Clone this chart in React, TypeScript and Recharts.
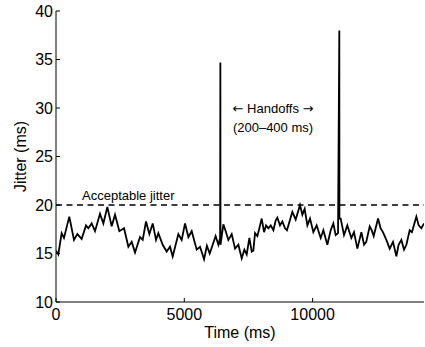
import React from "react";
import { LineChart, Line, XAxis, YAxis, ReferenceLine } from "recharts";

// vertices of the jitter trace (ms)
const TIMES = [
  0, 90, 220, 311, 519, 701, 831, 1000, 1169, 1260, 1390, 1520, 1715, 1845, 2001, 2170, 2300, 2469,
  2651, 2820, 2950, 3080, 3274, 3378, 3508, 3638, 3768, 3898, 3989, 4158, 4313, 4443, 4547, 4768,
  4898, 5028, 5158, 5288, 5483, 5613, 5769, 5880, 5990, 6220, 6328, 6395, 6405, 6410, 6522, 6626,
  6717, 6847, 6977, 7107, 7236, 7340, 7431, 7535, 7627, 7690, 7756, 7847, 7925, 8016, 8107, 8185,
  8276, 8367, 8471, 8560, 8625, 8729, 8820, 8924, 9000, 9210, 9340, 9508, 9600, 9690, 9795, 9898,
  10028, 10158, 10314, 10418, 10574, 10704, 10807, 10898, 10990, 11040, 11045, 11093, 11223, 11353,
  11509, 11613, 11743, 11899, 12003, 12090, 12224, 12300, 12380, 12549, 12650, 12740, 12873, 13003,
  13133, 13263, 13350, 13458, 13562, 13653, 13783, 13870, 14042, 14133, 14237, 14341,
];

const JITTER = [
  15.3, 14.9, 17.1, 16.6, 18.8, 16.4, 17.0, 16.5, 17.9, 17.6, 18.1, 17.3, 19.1, 18.1, 19.8, 17.8,
  19.0, 17.3, 17.6, 15.7, 16.2, 15.1, 16.7, 16.4, 18.3, 17.0, 18.1, 16.4, 17.1, 15.9, 15.2, 15.7,
  14.7, 17.0, 16.4, 18.1, 16.7, 17.3, 15.4, 15.7, 14.4, 15.8, 15.0, 16.8, 15.9, 16.6, 34.7, 15.9,
  18.0, 17.2, 16.4, 17.0, 15.5, 15.9, 14.5, 15.4, 14.9, 16.6, 15.2, 15.3, 17.1, 16.8, 17.6, 18.6,
  17.2, 17.9, 17.6, 17.9, 17.4, 18.4, 18.7, 17.9, 18.3, 17.6, 17.4, 19.3, 18.5, 20.0, 19.0, 19.6,
  17.9, 18.6, 17.2, 17.9, 16.6, 17.4, 15.9, 17.4, 18.1, 16.9, 17.1, 38.0, 18.6, 18.6, 16.9, 17.9,
  16.6, 17.2, 15.5, 17.2, 15.9, 16.2, 17.8, 17.4, 16.8, 18.6, 17.6, 17.2, 16.4, 15.5, 16.2, 14.7,
  15.9, 16.4, 15.4, 15.9, 17.4, 17.2, 18.8, 17.9, 17.6, 18.1,
];

const X_TICKS = [0, 5000, 10000];
const Y_TICKS = [10, 15, 20, 25, 30, 35, 40];
const ACCEPTABLE = 20;

const data = TIMES.map((t, i) => ({ t, v: JITTER[i] }));

const FONT = '"Liberation Sans", Arial, Helvetica, sans-serif';
const ARROW_FONT = '"DejaVu Sans", sans-serif';

export default function App() {
  return (
    <div style={{ position: "absolute", left: 0, top: 0, background: "#fff" }}>
      <LineChart width={425} height={347} data={data} margin={{ top: 11, right: 1, bottom: 0, left: 0 }}>
        <XAxis
          dataKey="t"
          type="number"
          domain={[0, 14340]}
          ticks={X_TICKS}
          allowDataOverflow
          height={45}
          stroke="#000"
          tickSize={-4}
          tickMargin={11}
          tick={{ fill: "#000", fontSize: 16, fontFamily: FONT }}
          label={{ value: "Time (ms)", position: "insideBottom", offset: 9, fill: "#000", fontSize: 16, fontFamily: FONT }}
        />
        <YAxis
          type="number"
          domain={[10, 40]}
          ticks={Y_TICKS}
          width={56}
          stroke="#000"
          tickSize={-4}
          tickMargin={7}
          tick={{ fill: "#000", fontSize: 16, fontFamily: FONT }}
          label={{ value: "Jitter (ms)", angle: -90, position: "center", dx: -8, fill: "#000", fontSize: 16, fontFamily: FONT }}
        />
        <ReferenceLine y={ACCEPTABLE} stroke="#000" strokeWidth={1.5} strokeDasharray="6 4.5" />
        <Line
          dataKey="v"
          stroke="#000"
          strokeWidth={1.8}
          dot={false}
          isAnimationActive={false}
          strokeLinejoin="miter"
        />
        <text x={82} y={200} fontSize={13} fontFamily={FONT} fill="#000">
          Acceptable jitter
        </text>
        <text x={273} y={113} fontSize={13} fontFamily={FONT} fill="#000" textAnchor="middle">
          <tspan fontFamily={ARROW_FONT}>←</tspan> Handoffs <tspan fontFamily={ARROW_FONT}>→</tspan>
        </text>
        <text x={273} y={132} fontSize={13} fontFamily={FONT} fill="#000" textAnchor="middle">
          (200–400 ms)
        </text>
      </LineChart>
    </div>
  );
}
